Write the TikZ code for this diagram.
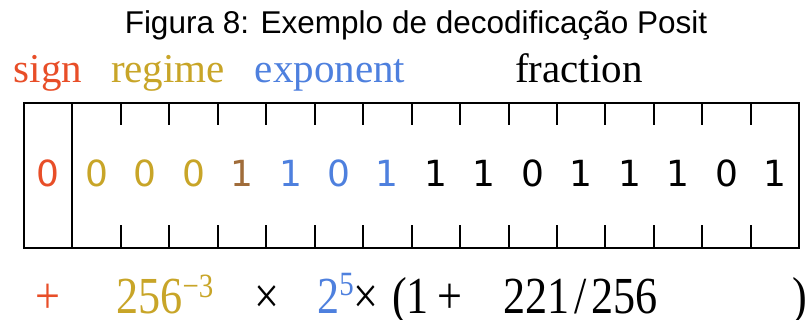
\documentclass[tikz,border=0pt]{standalone}
\usepackage{fontspec}
\setmainfont{Liberation Serif}
\setsansfont{Liberation Sans}
\newfontfamily\bitfont{DejaVu Sans}
\newfontfamily\valfont[FakeStretch=0.85]{Liberation Serif}
\usetikzlibrary{positioning}

\definecolor{signred}{RGB}{232,78,40}
\definecolor{regimegold}{RGB}{200,165,40}
\definecolor{regimebrown}{RGB}{160,108,58}
\definecolor{expblue}{RGB}{78,128,222}

\begin{document}
\begin{tikzpicture}[x=1pt,y=-1pt,
    fieldlbl/.style={font=\fontsize{41}{41}\selectfont, anchor=base, inner sep=0pt},
    bitval/.style={font=\bitfont\fontsize{36}{36}\selectfont, inner sep=0pt},
    formula/.style={font=\valfont\fontsize{52}{52}\selectfont, anchor=base west,
        inner sep=0pt, text depth=0pt},
    tickline/.style={line width=2pt}]
    \useasboundingbox (0,0) rectangle (806,320);
    % Title
    \node[font=\sffamily\fontsize{31.5}{31.5}\selectfont, anchor=base] (title) at (416,34)
        {Figura 8: Exemplo de decodificação Posit};
    % Field names
    \node[fieldlbl, signred] (lsign) at (48,83) {sign};
    \node[fieldlbl, regimegold] (lregime) at (168,83) {regime};
    \node[fieldlbl, expblue] (lexp) at (330,83) {exponent};
    \node[fieldlbl] (lfrac) at (579,83) {fraction};
    % Bit box
    \draw[line width=2pt] (24,103) rectangle (799,248);
    \draw[line width=2pt] (72.45,103) -- (72.45,248);
    \foreach \k in {2,...,15} {
        \draw[tickline] ({24+48.45*\k},103) -- ++(0,22);
        \draw[tickline] ({24+48.45*\k},248) -- ++(0,-23);
    }
    % Bits
    \foreach \b/\c [count=\i from 0] in {0/signred, 0/regimegold, 0/regimegold, 0/regimegold,
        1/regimebrown, 1/expblue, 0/expblue, 1/expblue, 1/black, 1/black, 0/black,
        1/black, 1/black, 1/black, 0/black, 1/black}
        \node[bitval, text=\c] (bit\i) at ({24+48.45*(\i+0.5)},173) {\b};
    % Decoded value
    \node[formula, signred, anchor=base] (vsign) at (48,314) {+};
    \node[formula, regimegold] (vregime) at (116,314)
        {256\raisebox{16pt}{\fontsize{34}{34}\selectfont −3}};
    \node[formula, anchor=base] (vtimes) at (267,314) {×};
    \node[formula, expblue] (vexp) at (317,314)
        {2\raisebox{18pt}{\fontsize{34}{34}\selectfont 5}};
    \node[formula, anchor=base] (vmul) at (366,314) {×};
    \node[formula] (vopen) at (392,314) {(1};
    \node[formula, anchor=base] (vplus) at (450,314) {+};
    \node[formula] (vfrac) at (503,314) {221\kern5pt/\kern5pt256};
    \node[formula, anchor=base] (vclose) at (800,314) {)};
\end{tikzpicture}
\end{document}
